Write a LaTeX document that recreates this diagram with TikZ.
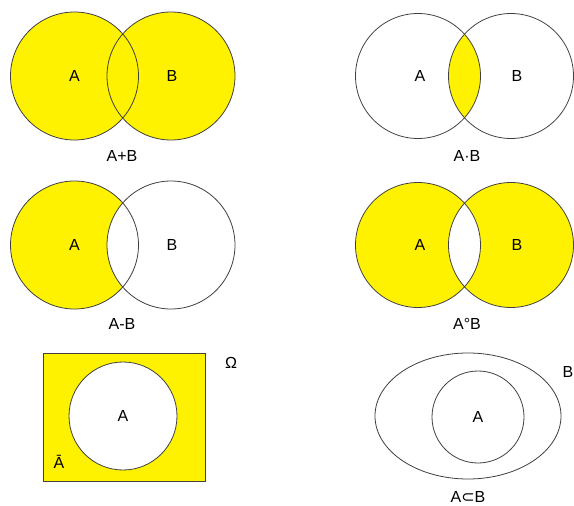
\documentclass[tikz,border=0pt]{standalone}
\usepackage{fontspec}
\setmainfont{Liberation Sans}
\newfontfamily\symfont{DejaVu Sans}
\tikzset{
  x=1pt,y=-1pt,
  outl/.style={draw=black!75,line width=0.8pt},
  yel/.style={fill=yellow},
  lbl/.style={font=\fontsize{16}{18}\selectfont,inner sep=0pt,text=black}
}
\begin{document}
\begin{tikzpicture}
\useasboundingbox (0,0) rectangle (574,506);
% ---------- Panel 1: A+B ----------
\coordinate (p1a) at (74.5,76);
\coordinate (p1b) at (171,76);
\fill[yel] (p1a) circle (64);
\fill[yel] (p1b) circle (64);
\draw[outl] (p1a) circle (64);
\draw[outl] (p1b) circle (64);
\node[lbl] (l1a) at (p1a) {A};
\node[lbl] (l1b) at (172,76) {B};
\node[lbl] (t1) at (122,156) {A+B};
% ---------- Panel 2: A.B ----------
\coordinate (p2a) at (418,76);
\coordinate (p2b) at (511,76);
\begin{scope}
  \clip (p2a) circle (62.5);
  \fill[yel] (p2b) circle (62.5);
\end{scope}
\draw[outl] (p2a) circle (62.5);
\draw[outl] (p2b) circle (62.5);
\node[lbl] (l2a) at (420,76) {A};
\node[lbl] (l2b) at (517,76) {B};
\node[lbl] (t2) at (467,156) {A·B};
% ---------- Panel 3: A-B ----------
\coordinate (p3a) at (74.5,245);
\coordinate (p3b) at (171,245);
\fill[yel] (p3a) circle (64);
\fill[white] (p3b) circle (64);
\draw[outl] (p3a) circle (64);
\draw[outl] (p3b) circle (64);
\node[lbl] (l3a) at (p3a) {A};
\node[lbl] (l3b) at (172,245) {B};
\node[lbl] (t3) at (122,324) {A-B};
% ---------- Panel 4: A o B ----------
\coordinate (p4a) at (418,245);
\coordinate (p4b) at (511,245);
\fill[yel] (p4a) circle (62.5);
\fill[yel] (p4b) circle (62.5);
\begin{scope}
  \clip (p4a) circle (62.5);
  \fill[white] (p4b) circle (62.5);
\end{scope}
\draw[outl] (p4a) circle (62.5);
\draw[outl] (p4b) circle (62.5);
\node[lbl] (l4a) at (420,245) {A};
\node[lbl] (l4b) at (517,245) {B};
\node[lbl] (t4) at (467,324) {A°B};
% ---------- Panel 5: complement ----------
\draw[outl,yel] (43,353) rectangle (205,481);
\coordinate (p5a) at (123,416);
\draw[outl,fill=white] (p5a) circle (54);
\node[lbl] (l5a) at (p5a) {A};
\node[lbl] (om) at (231,363) {Ω};
\node[lbl] (ab) at (59,462) {Ā};
% ---------- Panel 6: subset ----------
\coordinate (p6) at (468,416);
\draw[outl] (p6) ellipse [x radius=93,y radius=63];
\coordinate (p6a) at (478,417);
\draw[outl] (p6a) circle (46);
\node[lbl] (l6a) at (p6a) {A};
\node[lbl] (l6b) at (568,372) {B};
\node[lbl] (t6) at (468,497) {A{\symfont ⊂}B};
\end{tikzpicture}
\end{document}
